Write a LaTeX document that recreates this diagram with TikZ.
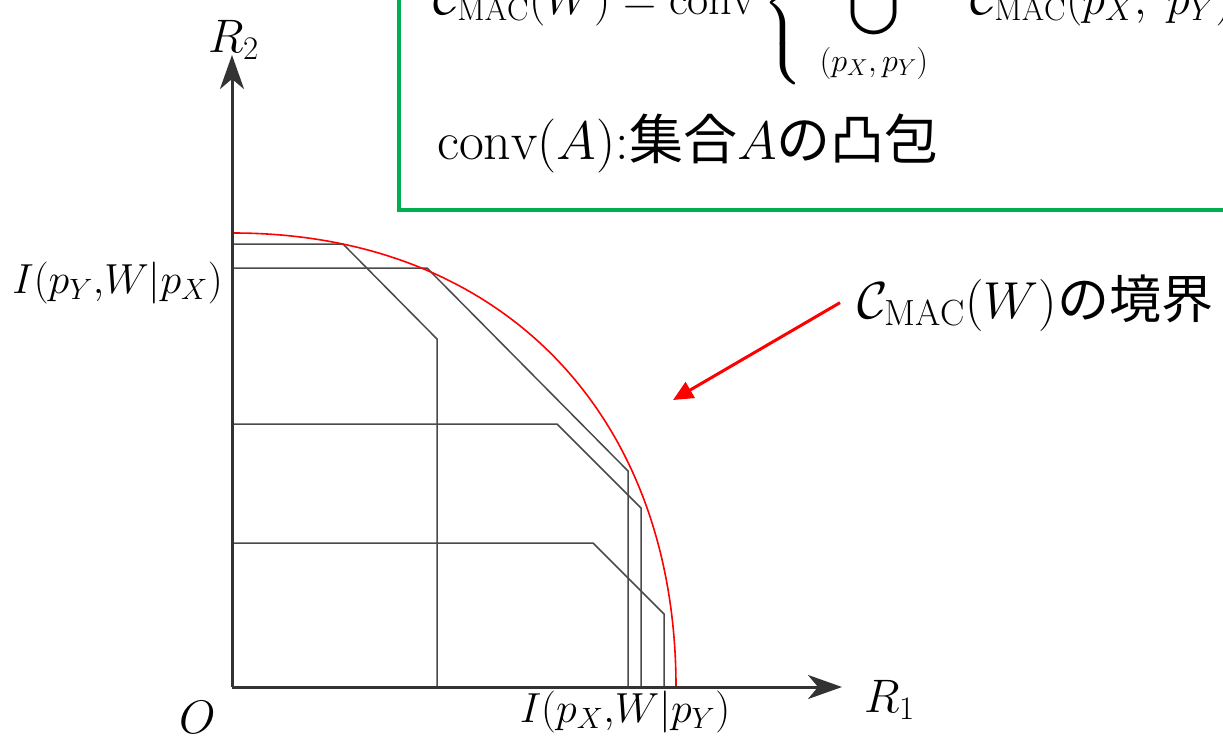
\RequirePackage{fix-cm}
\documentclass[tikz,border=0pt]{standalone}
\usepackage{amsmath,amssymb}
\usepackage{fontspec}
\newfontfamily\jpfont{Noto Sans CJK JP}
\usetikzlibrary{arrows.meta}
\definecolor{cgreen}{HTML}{00B050}
\definecolor{cred}{HTML}{FF0000}
\definecolor{cline}{HTML}{333333}
\definecolor{cpoly}{HTML}{4A4A4A}

\begin{document}
\begin{tikzpicture}[
  x=1pt, y=-1pt,
  bigtxt/.style={inner sep=0pt, font=\fontsize{42}{50}\selectfont},
  axis/.style={-{Stealth[length=34pt, width=24pt, inset=10pt]}, line width=3pt, draw=cline},
  region/.style={line width=1.5pt, draw=cpoly},
  bound/.style={line width=1.6pt, draw=cred},
  pointer/.style={-{Triangle[length=20pt, width=18pt]}, line width=3pt, draw=cred},
  ]
\useasboundingbox (0,0) rectangle (1223,737);
\clip (0,0) rectangle (1223,737);
% definition box
\draw[cgreen, line width=4pt] (399,-40) rectangle (1280,210);
\node[bigtxt, anchor=base west, font=\fontsize{46}{54}\selectfont] (defn) at (433,14)
  {$\displaystyle \mathcal{C}_{\mathrm{MAC}}(W) = \mathrm{conv}\left\{\rule[-68pt]{0pt}{136pt}
   \bigcup\limits_{\;(p_X,\,p_Y)\;}\;\; \mathcal{C}_{\mathrm{MAC}}(p_X,\;p_Y)\quad \right\}$};
\node[bigtxt, anchor=base west, font=\fontsize{54}{62}\selectfont] (conv) at (437,159)
  {$\mathrm{conv}(A)$:{\jpfont 集合}$A${\jpfont の凸包}};
% achievable regions
\foreach \ya/\xa/\xb/\yb in {244/343/437/339, 268/427/628/471, 424/557/641/508, 543/593/664/614}
  \draw[region] (233,\ya) -- (\xa,\ya) -- (\xb,\yb) -- (\xb,687);
% boundary
\draw[bound] (233,233) .. controls (501,233) and (676,414) .. (676,687);
% axes
\coordinate (org) at (232,687);
\coordinate (r1end) at (842,687);
\coordinate (r2end) at (232,55);
\draw[axis] (org) -- (r1end);
\draw[axis] (org) -- (r2end);
\node[bigtxt, anchor=base west, font=\fontsize{47}{54}\selectfont] (r1) at (864,712) {$R_1$};
\node[bigtxt, anchor=base west, font=\fontsize{47}{54}\selectfont] (r2) at (208,52) {$R_2$};
\node[bigtxt, anchor=base west, font=\fontsize{47}{54}\selectfont] (o) at (179,733) {$O$};
\node[bigtxt, anchor=base east] (ipy) at (223,293) {$I(p_Y{,}W|p_X)$};
\node[bigtxt, anchor=base] (ipx) at (625,722) {$I(p_X{,}W|p_Y)$};
% pointer to boundary
\coordinate (tgt) at (673,400);
\node[bigtxt, anchor=base west, outer xsep=17pt, font=\fontsize{52}{60}\selectfont] (bnd) at (840,318)
  {$\mathcal{C}_{\mathrm{MAC}}(W)${\jpfont の境界}};
\draw[pointer] (bnd.west) -- (tgt);
\end{tikzpicture}
\end{document}
